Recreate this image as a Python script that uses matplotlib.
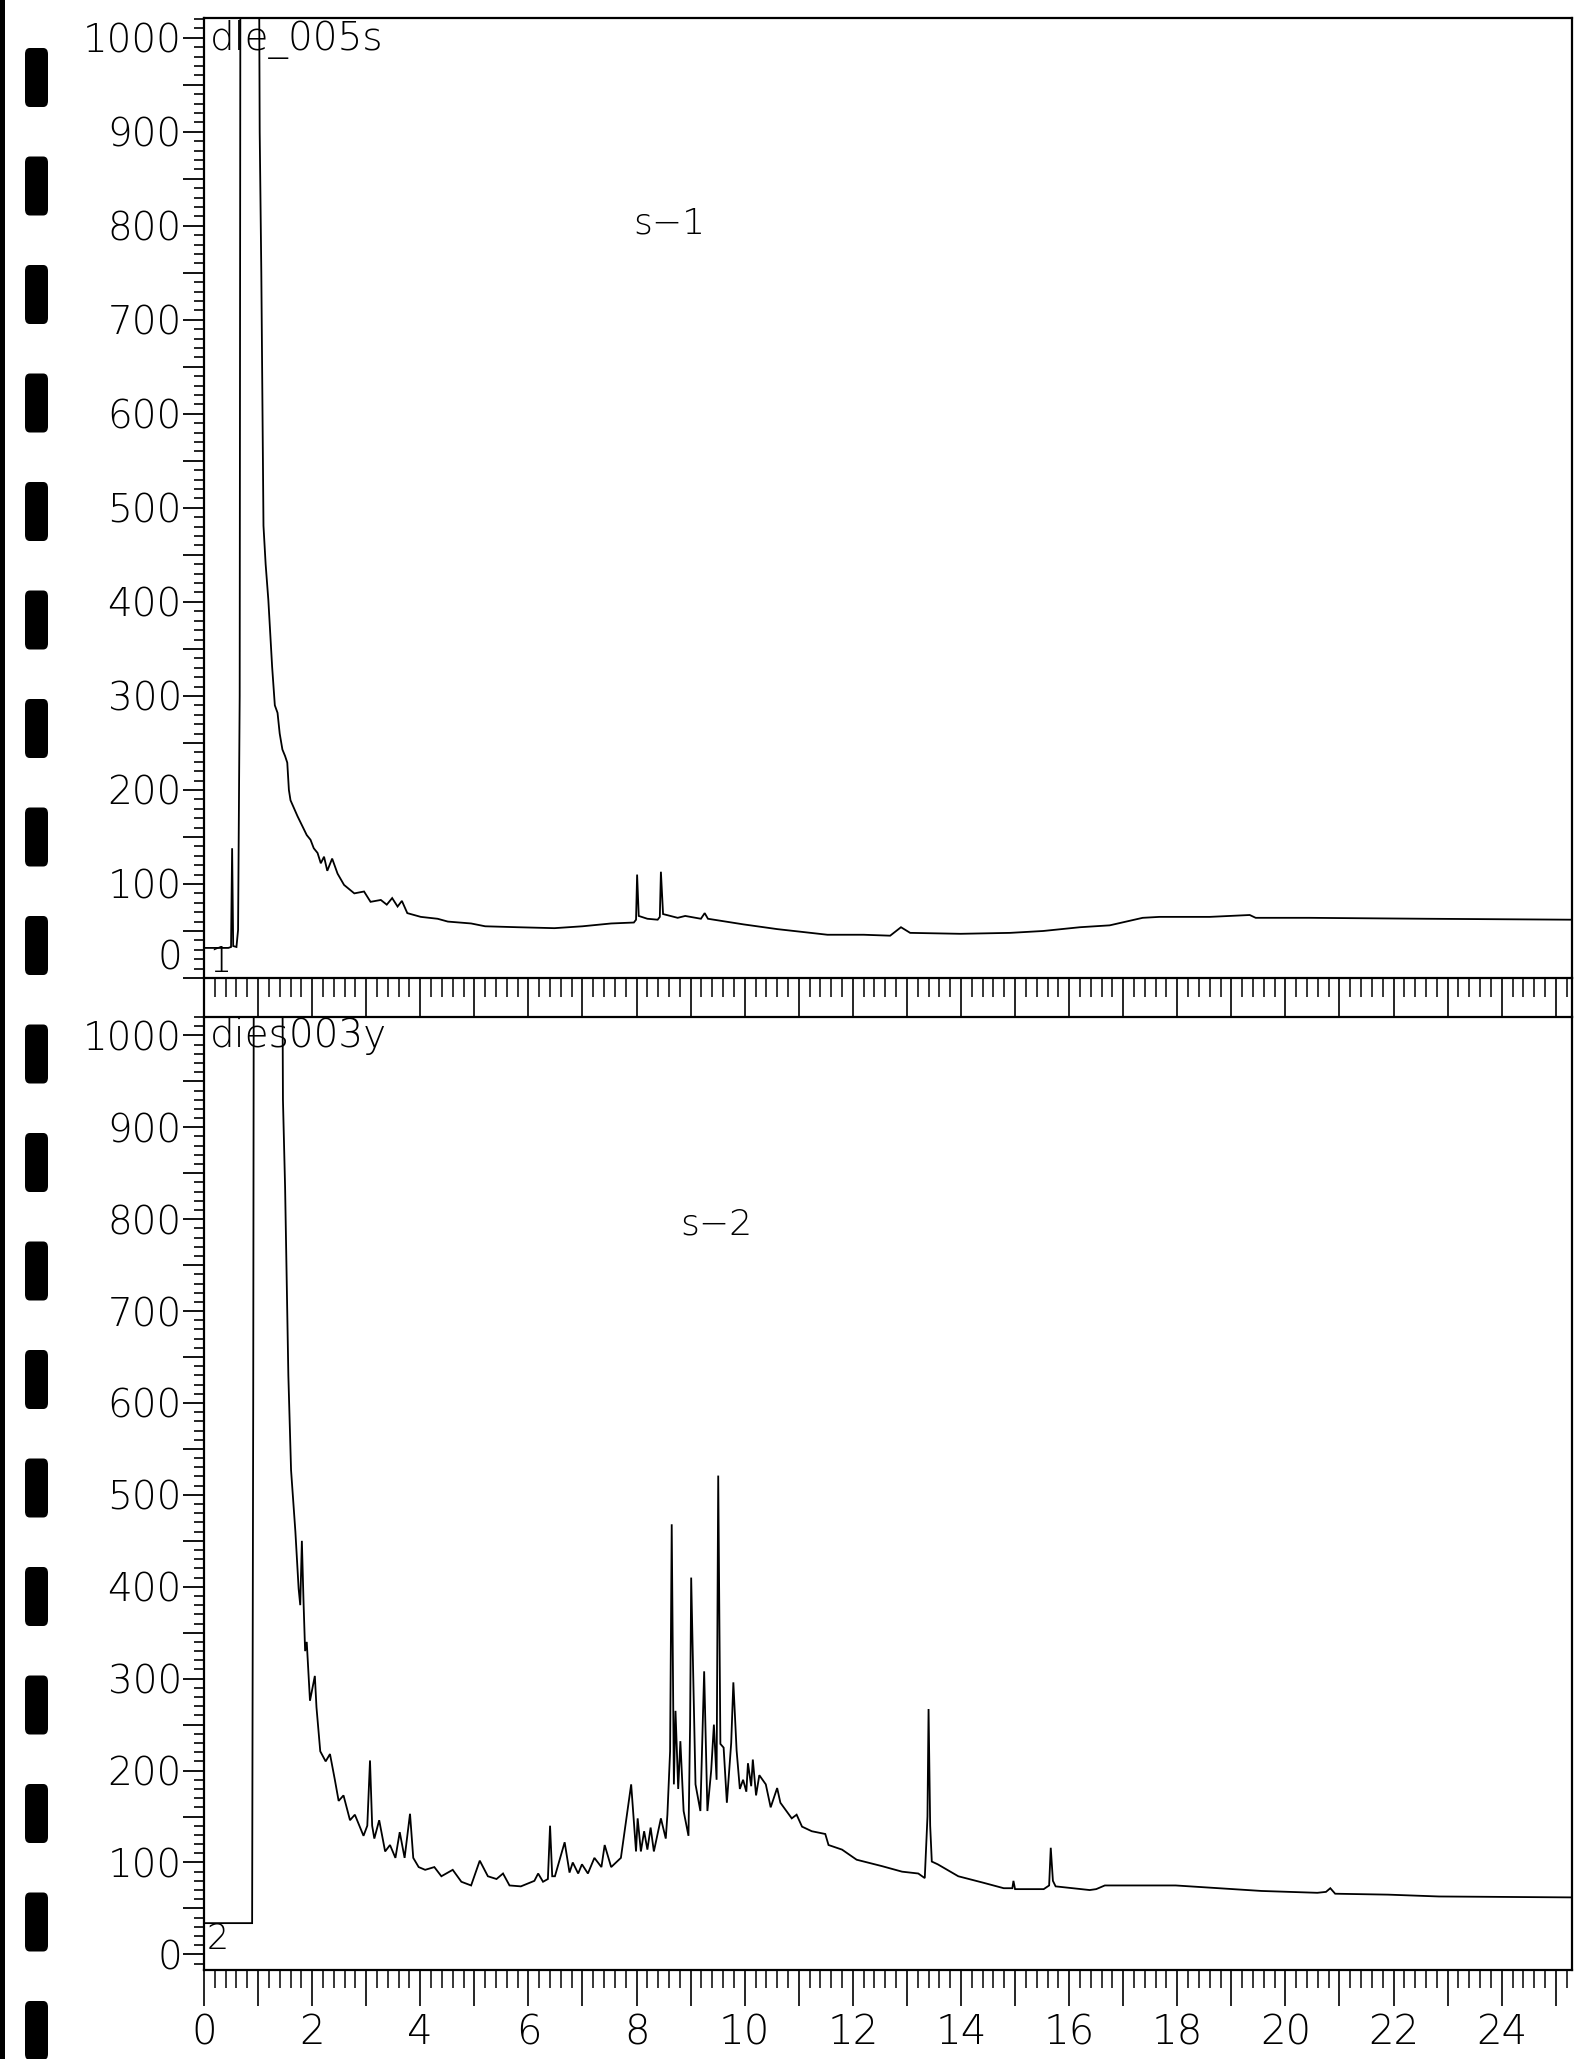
import matplotlib
matplotlib.use('Agg')
import matplotlib.pyplot as plt
from matplotlib.ticker import MultipleLocator, FuncFormatter
from matplotlib.patches import FancyBboxPatch, Rectangle
from matplotlib.lines import Line2D

# ---------------- data ----------------
# run 1 : dle_005s  (time in min, abundance)
t1 = [0.00, 0.45, 0.50, 0.52, 0.54, 0.60, 0.63, 0.66, 0.68, 0.99, 1.03, 1.06,
      1.10, 1.14, 1.19, 1.26, 1.31, 1.36, 1.40, 1.45, 1.50, 1.54, 1.57, 1.60,
      1.73, 1.90, 1.97, 2.03, 2.10, 2.16, 2.22, 2.28, 2.37, 2.47, 2.59, 2.78,
      2.96, 3.08, 3.27, 3.38, 3.48, 3.58, 3.66, 3.76, 4.01, 4.32, 4.51, 4.94,
      5.20, 5.80, 6.48, 7.00, 7.53, 7.95, 7.99, 8.01, 8.04, 8.20, 8.39, 8.43,
      8.45, 8.49, 8.76, 8.90, 9.19, 9.26, 9.32, 9.98, 10.60, 11.22, 11.53,
      12.20, 12.69, 12.89, 13.06, 13.99, 14.91, 15.52, 16.20, 16.75, 17.36,
      17.67, 18.60, 19.34, 19.45, 20.44, 22.60, 25.30]
y1 = [32, 32, 33, 138, 34, 33, 51, 300, 1500, 1500, 900, 750,
      481, 440, 402, 331, 290, 282, 260, 243, 236, 229, 200, 189,
      172, 152, 147, 138, 133, 122, 129, 114, 127, 111, 99, 90,
      92, 81, 83, 78, 85, 76, 82, 69, 65, 63, 60, 58,
      55, 54, 53, 55, 58, 59, 62, 110, 66, 63, 62, 65,
      113, 68, 64, 66, 63, 69, 63, 57, 52, 48, 46,
      46, 45, 54, 48, 47, 48, 50, 54, 56, 64,
      65, 65, 67, 64, 64, 63, 62]

# run 2 : dies003y
t2 = [0.00, 0.89, 0.91, 0.93, 1.42, 1.46, 1.50, 1.53, 1.56, 1.61, 1.69, 1.75,
      1.78, 1.81, 1.84, 1.87, 1.90, 1.96, 2.05, 2.08, 2.15, 2.25, 2.33, 2.42,
      2.49, 2.58, 2.70, 2.79, 2.95, 3.02, 3.07, 3.11, 3.15, 3.24, 3.35, 3.44,
      3.54, 3.62, 3.71, 3.81, 3.87, 3.97, 4.09, 4.26, 4.39, 4.60, 4.76, 4.94,
      5.10, 5.25, 5.41, 5.53, 5.65, 5.86, 6.11, 6.18, 6.27, 6.36, 6.40, 6.44,
      6.49, 6.67, 6.76, 6.82, 6.92, 6.99, 7.10, 7.22, 7.35, 7.41, 7.53, 7.71,
      7.90, 7.99, 8.02, 8.08, 8.14, 8.20, 8.26, 8.32, 8.45, 8.54, 8.57, 8.62,
      8.65, 8.69, 8.72, 8.77, 8.81, 8.87, 8.96, 8.99, 9.01, 9.05, 9.09, 9.18,
      9.25, 9.31, 9.38, 9.43, 9.48, 9.51, 9.55, 9.61, 9.67, 9.75, 9.79, 9.85,
      9.91, 9.97, 10.03, 10.06, 10.12, 10.15, 10.21, 10.27, 10.39, 10.48,
      10.60, 10.66, 10.87, 10.96, 11.06, 11.24, 11.49, 11.55, 11.80, 12.07,
      12.54, 12.91, 13.21, 13.33, 13.38, 13.40, 13.43, 13.46, 13.57, 13.95,
      14.41, 14.79, 14.95, 14.97, 15.00, 15.53, 15.63, 15.66, 15.70, 15.75,
      16.38, 16.50, 16.66, 17.97, 19.56, 20.59, 20.75, 20.83, 20.92, 21.90,
      22.84, 25.30]
y2 = [34, 34, 600, 1500, 1500, 930, 834, 730, 630, 527, 460, 398,
      380, 450, 385, 330, 340, 276, 303, 269, 221, 210, 218, 190,
      167, 173, 146, 152, 129, 140, 211, 140, 126, 146, 112, 119,
      105, 133, 105, 153, 105, 95, 92, 95, 85, 92, 79, 75,
      102, 85, 82, 88, 75, 74, 80, 88, 79, 82, 140, 85,
      85, 122, 89, 100, 88, 98, 88, 105, 95, 119, 95, 105,
      185, 112, 148, 112, 134, 114, 138, 112, 148, 126, 152, 221,
      468, 185, 265, 180, 232, 156, 129, 250, 410, 300, 185, 156,
      308, 156, 200, 250, 190, 521, 229, 225, 165, 230, 296, 222,
      180, 190, 177, 208, 183, 212, 173, 195, 185, 160,
      181, 165, 148, 152, 139, 134, 131, 119, 114, 103,
      96, 90, 88, 83, 150, 267, 140, 101, 98, 85,
      78, 72, 72, 80, 71, 71, 75, 116, 80, 74,
      70, 71, 75, 75, 69, 67, 68, 72, 66, 65,
      63, 62]

y_tick_values = [0, 100, 200, 300, 400, 500, 600, 700, 800, 900, 1000]
x_tick_values = [0, 2, 4, 6, 8, 10, 12, 14, 16, 18, 20, 22, 24]
file_names = ["dle_005s", "dies003y"]
sample_names = ["s\u22121", "s\u22122"]
trace_ids = ["1", "2"]

# ---------------- figure ----------------
W, H = 1575, 2059
fig = plt.figure(figsize=(W / 100, H / 100), dpi=100)
fig.patch.set_facecolor('white')

FONT = dict(family='DejaVu Sans', weight='light')

def fx(px):
    return px / W

def fy(py):
    return 1 - py / H

left, right = 204, 1572
ax1 = fig.add_axes([fx(left), fy(978), (right - left) / W, (978 - 18) / H])
ax2 = fig.add_axes([fx(left), fy(1970), (right - left) / W, (1970 - 1017) / H])

ax1.plot(t1, y1, color='black', lw=1.3, solid_joinstyle='miter')
ax2.plot(t2, y2, color='black', lw=1.3, solid_joinstyle='miter')

ax1.set_ylim(0, 1021)
ax2.set_ylim(-17, 1020)

def yfmt_top(v, pos):
    iv = int(round(v))
    return str(iv) if (iv % 100 == 0 and iv in y_tick_values and iv != 0) else ''

def yfmt_bot(v, pos):
    iv = int(round(v))
    return str(iv) if (iv % 100 == 0 and iv in y_tick_values) else ''

def xfmt(v, pos):
    iv = int(round(v))
    return str(iv) if (abs(v - iv) < 1e-6 and iv in x_tick_values) else ''

for ax, yf in ((ax1, yfmt_top), (ax2, yfmt_bot)):
    ax.set_xlim(0, 25.3)
    ax.yaxis.set_major_locator(MultipleLocator(50))
    ax.yaxis.set_minor_locator(MultipleLocator(10))
    ax.yaxis.set_major_formatter(FuncFormatter(yf))
    ax.xaxis.set_major_locator(MultipleLocator(1))
    ax.xaxis.set_minor_locator(MultipleLocator(0.2))
    ax.xaxis.set_major_formatter(FuncFormatter(xfmt))
    ax.tick_params(axis='y', which='major', direction='out', length=15,
                   width=1.3, pad=1, labelsize=28)
    ax.tick_params(axis='y', which='minor', direction='out', length=7,
                   width=1.2)
    for sp in ax.spines.values():
        sp.set_linewidth(1.6)
    for lab in ax.get_yticklabels():
        lab.set_fontfamily(FONT['family'])
        lab.set_fontweight(FONT['weight'])

ax1.tick_params(axis='x', which='major', direction='out', length=28,
                width=1.2, labelbottom=False)
ax1.tick_params(axis='x', which='minor', direction='out', length=13.5,
                width=1.1)
ax2.tick_params(axis='x', which='major', direction='out', length=26,
                width=1.2, pad=5, labelsize=29)
ax2.tick_params(axis='x', which='minor', direction='out', length=13,
                width=1.1)
for lab in ax2.get_xticklabels():
    lab.set_fontfamily(FONT['family'])
    lab.set_fontweight(FONT['weight'])

# "0" label of the upper trace sits a little above its tick in the print
ax1.annotate("0", xy=(0, 21), xycoords=ax1.get_yaxis_transform(),
             xytext=(-16, 0), textcoords='offset points', ha='right',
             va='center', fontsize=28, **FONT)

# file names, sample names and trace numbers
for ax, name, samp, tid, sx, sy, tx, ty in (
        (ax1, file_names[0], sample_names[0], trace_ids[0], 8.6, 802, 0.30, 17),
        (ax2, file_names[1], sample_names[1], trace_ids[1], 9.48, 794, 0.26, 17)):
    ax.text(0.10, 987, name, fontsize=28, ha='left', va='baseline', **FONT)
    ax.text(sx, sy, samp, fontsize=26, ha='center', va='center', **FONT)
    ax.text(tx, ty, tid, fontsize=25, ha='center', va='center', **FONT)

# frame of the tick strip between the two traces
for xp in (left, right):
    fig.add_artist(Line2D([fx(xp), fx(xp)], [fy(978), fy(1017)],
                          transform=fig.transFigure, color='black', lw=1.6))

# film-edge marks along the left side of the scan
fig.add_artist(Rectangle((0, 0), 5 / W, 1, transform=fig.transFigure,
                         facecolor='black', edgecolor='none'))
for i in range(19):
    top = 48 + i * 108.5
    fig.add_artist(FancyBboxPatch((fx(25), fy(top + 59)), 23 / W, 59 / H,
                                  boxstyle='round,pad=0,rounding_size=0.003',
                                  transform=fig.transFigure,
                                  facecolor='black', edgecolor='none'))

fig.savefig('out.png', dpi=100)
